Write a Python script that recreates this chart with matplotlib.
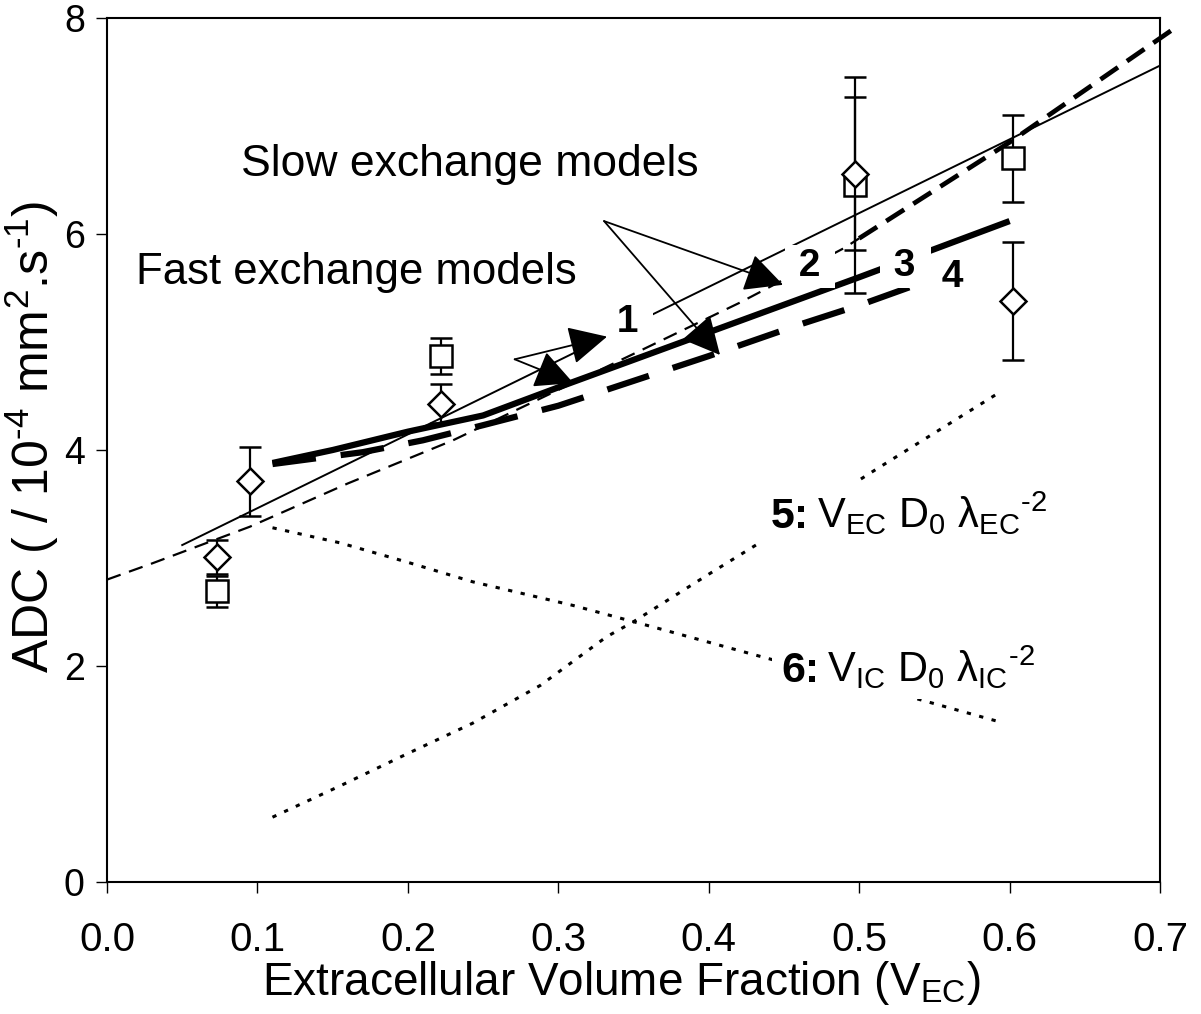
import numpy as np
import matplotlib
matplotlib.use("Agg")
import matplotlib.pyplot as plt
from matplotlib.ticker import FormatStrFormatter

plt.rcParams["font.family"] = ["Liberation Sans", "DejaVu Sans"]
plt.rcParams["mathtext.fontset"] = "custom"
plt.rcParams["mathtext.rm"] = "Liberation Sans"
plt.rcParams["mathtext.it"] = "Liberation Sans:italic"
plt.rcParams["mathtext.bf"] = "Liberation Sans:bold"
plt.rcParams["mathtext.default"] = "regular"

dia_x = [0.073, 0.095, 0.222, 0.497, 0.602]
dia_y = [3.01, 3.71, 4.43, 6.56, 5.38]
dia_err = [0.16, 0.32, 0.18, 0.71, 0.55]

sq_x = [0.073, 0.222, 0.497, 0.602]
sq_y = [2.69, 4.87, 6.45, 6.70]
sq_err = [0.14, 0.17, 1.00, 0.40]

# model 1: fast exchange (thin solid)
m1_x = [0.05, 0.70]
m1_y = [3.12, 7.56]
# model 2: slow exchange (thin dashed up to 0.5, heavier dashes after)
m2_x = [0.0, 0.03, 0.095, 0.16, 0.23, 0.29, 0.356, 0.42, 0.49, 0.5]
m2_y = [2.80, 2.95, 3.29, 3.69, 4.09, 4.49, 4.93, 5.36, 5.87, 5.96]
m2b_x = [0.5, 0.6, 0.708]
m2b_y = [5.96, 6.85, 7.89]
# model 3: fast exchange (thick solid)
m3_x = [0.11, 0.15, 0.2, 0.25, 0.3, 0.4, 0.5, 0.6]
m3_y = [3.88, 4.00, 4.17, 4.32, 4.58, 5.09, 5.60, 6.12]
# model 4: slow exchange (thick dashed)
m4_x = [0.11, 0.17, 0.21, 0.25, 0.3, 0.35, 0.4, 0.46, 0.5, 0.59]
m4_y = [3.87, 3.98, 4.09, 4.23, 4.41, 4.64, 4.87, 5.16, 5.34, 5.79]
# components 5 and 6 (dotted)
c5_x = [0.11, 0.155, 0.2, 0.243, 0.288, 0.332, 0.35, 0.4, 0.45, 0.51, 0.594]
c5_y = [0.60, 0.89, 1.19, 1.47, 1.82, 2.27, 2.41, 2.85, 3.28, 3.81, 4.54]
c6_x = [0.11, 0.155, 0.2, 0.243, 0.31, 0.35, 0.366, 0.434, 0.54, 0.594]
c6_y = [3.28, 3.14, 2.96, 2.78, 2.56, 2.41, 2.35, 2.09, 1.69, 1.48]

x_ticks = [0.0, 0.1, 0.2, 0.3, 0.4, 0.5, 0.6, 0.7]
y_ticks = [0, 2, 4, 6, 8]

# annotation anchors (data coords)
slow_origin = (0.3304, 6.12)
slow_tips = [(0.4494, 5.53), (0.4075, 4.88)]
fast_origin = (0.271, 4.84)
fast_tips = [(0.3324, 5.05), (0.310, 4.62)]
num_labels = ["1", "2", "3", "4"]
num_pos = [(0.3463, 5.19), (0.4673, 5.70), (0.5305, 5.70), (0.5624, 5.60)]

fig = plt.figure(figsize=(12.01, 10.14), dpi=100)
ax = fig.add_axes([0.0891, 0.1302, 0.8768, 0.852])

ax.plot(m1_x, m1_y, color="k", lw=1.4, zorder=3)
ax.plot(m2_x, m2_y, color="k", lw=1.6, ls=(0, (6.5, 4)), zorder=3)
ax.plot(m2b_x, m2b_y, color="k", lw=3.4, ls=(0, (4.5, 2.3)), zorder=3, clip_on=False)
ax.plot(m3_x, m3_y, color="k", lw=4.5, solid_capstyle="butt", zorder=3)
ax.plot(m4_x, m4_y, color="k", lw=4.5, ls=(0, (7, 4)), zorder=3)
ax.plot(c5_x, c5_y, color="k", lw=2.2, ls=(0, (1.4, 2.8)), zorder=3)
ax.plot(c6_x, c6_y, color="k", lw=2.2, ls=(0, (1.4, 2.8)), zorder=3)

ax.errorbar(sq_x, sq_y, yerr=sq_err, fmt="s", ms=15.5, mfc="white", mec="k",
            mew=1.8, ecolor="k", elinewidth=1.6, capsize=7.9, capthick=4.2, zorder=7)
ax.errorbar(dia_x, dia_y, yerr=dia_err, fmt="D", ms=13.5, mfc="white", mec="k",
            mew=1.8, ecolor="k", elinewidth=1.6, capsize=7.9, capthick=4.2, zorder=8)

ax.set_xlim(0, 0.7)
ax.set_ylim(0, 8)
ax.set_xticks(x_ticks)
ax.set_yticks(y_ticks)
ax.xaxis.set_major_formatter(FormatStrFormatter("%.1f"))
ax.tick_params(axis="both", direction="out", length=8, width=1, labelsize=29)
ax.tick_params(axis="x", pad=20)
ax.tick_params(axis="y", pad=8, labelsize=27)
for s in ax.spines.values():
    s.set_linewidth(1.5)

ax.set_xlabel("Extracellular Volume Fraction (V$_{EC}$)", fontsize=33, va="center")
ax.xaxis.set_label_coords(0.488, -0.117)
ax.set_ylabel("ADC ( / 10$^{‐4}$ mm$^{2}$.s$^{‐1}$)", fontsize=36, va="center")
ax.yaxis.set_label_coords(-0.0715, 0.515)

ax.text(0.2413, 6.64, "Slow exchange models", fontsize=32, ha="center", va="center")
ax.text(0.166, 5.64, "Fast exchange models", fontsize=31.5, ha="center", va="center")

arrow = dict(arrowstyle="-|>,head_length=1.2,head_width=0.6", mutation_scale=20,
             lw=1.3, color="k", shrinkA=0, shrinkB=0)
for tip in slow_tips:
    ax.annotate("", xy=tip, xytext=slow_origin, arrowprops=arrow, zorder=9)
for tip in fast_tips:
    ax.annotate("", xy=tip, xytext=fast_origin, arrowprops=arrow, zorder=9)

box = dict(boxstyle="square,pad=0.1", fc="white", ec="none")
for lab, (lx, ly) in zip(num_labels, num_pos):
    ax.text(lx, ly, " " + lab + " ", fontsize=28, fontweight="bold", ha="center",
            va="center", bbox=box, zorder=6)

wbox = dict(boxstyle="square,pad=0.2", fc="white", ec="none")
ax.text(0.4667, 3.278, "5:", fontsize=31, fontweight="bold", ha="right",
        va="baseline", bbox=wbox, zorder=6)
ax.text(0.4720, 3.278, "V$_{EC}$ D$_{0}$ λ$_{EC}{}^{‐2}$", fontsize=30,
        ha="left", va="baseline", bbox=wbox, zorder=6)
ax.text(0.4734, 1.852, "6:", fontsize=31, fontweight="bold", ha="right",
        va="baseline", bbox=wbox, zorder=6)
ax.text(0.4787, 1.852, "V$_{IC}$ D$_{0}$ λ$_{IC}{}^{‐2}$", fontsize=30,
        ha="left", va="baseline", bbox=wbox, zorder=6)

fig.savefig("out.png", dpi=100)
